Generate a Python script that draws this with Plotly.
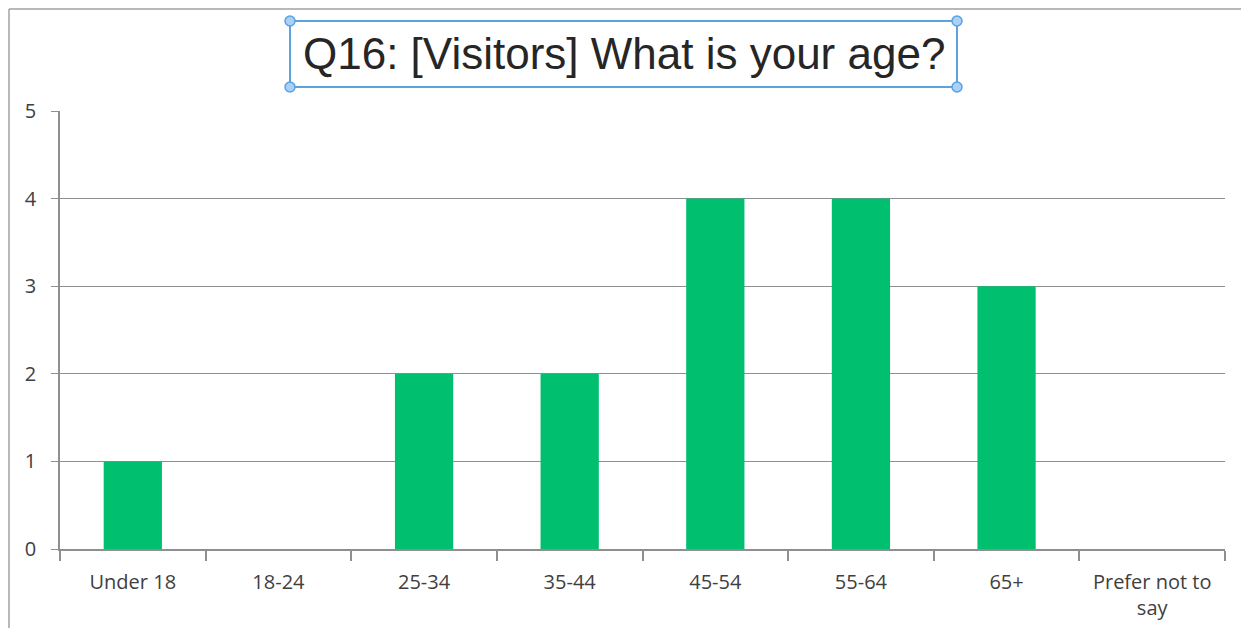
import plotly.graph_objects as go

age_groups = ["Under 18", "18-24", "25-34", "35-44", "45-54", "55-64", "65+", "Prefer not to<br>say"]
responses = [1, 0, 2, 2, 4, 4, 3, 0]
y_ticks = [0, 1, 2, 3, 4, 5]

BAR_GREEN = "#00BF6F"
GRID_GRAY = "#8f8f8f"
SELECT_BLUE = "#5AA2E2"

# the page body adds 8px around the figure: size it to fit the window
# and do all placement in page pixels
OFF = 8
W, H = 1249 - 2 * OFF, 636 - 2 * OFF
L, T = 60 - OFF, 111 - OFF
R, B = W - (1225 - OFF), H - (549 - OFF)


def to_paper(px, py):
    # page pixel -> paper coords of the plot area
    fx, fy = px - OFF, py - OFF
    return (fx - L) / (W - L - R), (H - B - fy) / (H - T - B)


fig = go.Figure(
    go.Bar(
        x=age_groups,
        y=responses,
        marker=dict(color=BAR_GREEN, line=dict(width=0)),
        hovertemplate="%{x}: %{y}<extra></extra>",
    )
)

shapes = []

# outer chart frame (only top and left edges are visible)
x0, y0 = to_paper(9, 9)
x1, y1 = to_paper(W + OFF, H + OFF)
for xa, ya, xb, yb in [(x0, y0, x1, y0), (x0, y0, x0, y1)]:
    shapes.append(dict(type="line", xref="paper", yref="paper", x0=xa, y0=ya, x1=xb, y1=yb,
                       line=dict(color="#a0a0a0", width=1.5)))

# selected-title box with corner handles
bx0, by0 = to_paper(290, 21)
bx1, by1 = to_paper(957, 87)
shapes.append(dict(type="rect", xref="paper", yref="paper", x0=bx0, y0=by0, x1=bx1, y1=by1,
                   line=dict(color=SELECT_BLUE, width=2)))
for cx, cy in [(290, 21), (957, 21), (290, 87), (957, 87)]:
    hx, hy = to_paper(cx, cy)
    shapes.append(dict(type="circle", xref="paper", yref="paper", xsizemode="pixel", ysizemode="pixel",
                       xanchor=hx, yanchor=hy, x0=-5, x1=5, y0=-5, y1=5,
                       fillcolor="#A9D0F5", line=dict(color=SELECT_BLUE, width=1.5)))

tx, ty = to_paper(623.5, 54)
fig.add_annotation(
    text="Q16: [Visitors] What is your age?",
    xref="paper", yref="paper", x=tx, y=ty,
    xanchor="center", yanchor="middle", showarrow=False,
    font=dict(family="Liberation Sans, Arial, sans-serif", size=44, color="#262626"),
)

fig.update_layout(
    width=W,
    height=H,
    margin=dict(l=L, r=R, t=T, b=B, autoexpand=False),
    paper_bgcolor="white",
    plot_bgcolor="white",
    bargap=0.6,
    showlegend=False,
    shapes=shapes,
    font=dict(family="Open Sans, sans-serif", size=20, color="#404040"),
)
fig.update_xaxes(
    type="category",
    showgrid=False,
    showline=True,
    linecolor=GRID_GRAY,
    linewidth=1.5,
    ticks="outside",
    tickson="boundaries",
    ticklen=10,
    tickcolor=GRID_GRAY,
    tickwidth=1.5,
    ticklabelstandoff=14,
    tickfont=dict(size=20, color="#404040"),
)
fig.update_yaxes(
    range=[0, 5],
    tickvals=y_ticks,
    showgrid=True,
    gridcolor=GRID_GRAY,
    gridwidth=1,
    zeroline=False,
    showline=True,
    linecolor=GRID_GRAY,
    linewidth=1.5,
    ticks="outside",
    ticklen=7,
    tickcolor=GRID_GRAY,
    ticklabelstandoff=11,
    tickfont=dict(size=20, color="#404040"),
)

fig.write_html("out.html", config={"displayModeBar": False})
